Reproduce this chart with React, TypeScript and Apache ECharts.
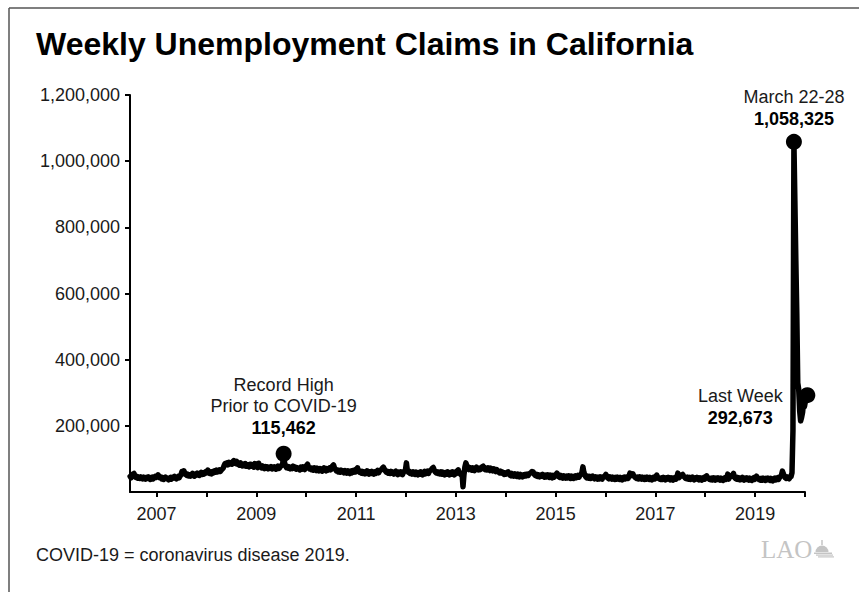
import React, { useEffect, useRef } from "react";
import * as echarts from "echarts";

const chartTitle = "Weekly Unemployment Claims in California";
const footnote = "COVID-19 = coronavirus disease 2019.";
const sourceMark = "LAO";

const yTickValues = [0, 200000, 400000, 600000, 800000, 1000000, 1200000];
const xTickYears = [2007, 2008, 2009, 2010, 2011, 2012, 2013, 2014, 2015, 2016, 2017, 2018, 2019, 2020];
const xLabelYears = [2007, 2009, 2011, 2013, 2015, 2017, 2019];
const tickWeekOffset = 0.453;

// Weekly initial claims, thousands.
const claims2006 = [47, 43, 50, 54];
const claims2007 = [56, 48, 44, 47, 42, 45, 41, 46, 43, 40, 45, 42, 39, 44, 41, 46, 40, 38, 43, 45, 40, 42, 47, 44, 49, 52, 46, 43, 45, 40, 43, 38, 41, 45, 42, 39, 37, 42, 44, 39, 41, 45, 47, 42, 40, 44, 47, 43, 48, 52, 62, 55];
const claims2008 = [64, 57, 53, 50, 54, 49, 52, 48, 53, 56, 50, 48, 54, 51, 57, 53, 50, 56, 59, 53, 58, 54, 60, 62, 58, 66, 61, 56, 59, 55, 62, 58, 64, 60, 66, 61, 64, 67, 62, 66, 69, 72, 80, 86, 83, 88, 82, 90, 85, 88, 84, 92];
const claims2009 = [95, 88, 86, 93, 84, 87, 81, 88, 83, 79, 84, 80, 86, 78, 83, 79, 76, 84, 78, 83, 80, 75, 86, 81, 77, 74, 87, 80, 76, 73, 79, 74, 71, 77, 72, 76, 70, 75, 72, 77, 70, 74, 76, 71, 69, 75, 78, 71, 74, 79, 80, 84];
const claims2010 = [115.462, 88, 79, 74, 77, 72, 76, 70, 75, 71, 78, 72, 75, 69, 74, 70, 72, 67, 75, 69, 76, 72, 68, 77, 80, 84, 74, 70, 73, 68, 71, 66, 73, 69, 65, 72, 68, 64, 71, 66, 63, 70, 73, 66, 64, 71, 66, 69, 73, 67, 74, 79];
const claims2011 = [82, 73, 68, 64, 66, 61, 65, 60, 66, 61, 64, 58, 65, 61, 57, 64, 60, 56, 63, 58, 65, 60, 66, 61, 69, 73, 64, 60, 63, 57, 62, 56, 61, 55, 60, 64, 57, 54, 61, 56, 62, 57, 54, 61, 56, 62, 65, 58, 63, 66, 68, 72];
const claims2012 = [75, 69, 64, 60, 62, 57, 61, 56, 62, 57, 60, 54, 60, 63, 56, 53, 60, 55, 61, 56, 53, 60, 63, 66, 88, 65, 60, 62, 56, 60, 54, 61, 57, 53, 60, 55, 52, 59, 54, 61, 56, 52, 59, 62, 55, 60, 63, 56, 63, 65, 67, 72];
const claims2013 = [74, 67, 61, 58, 61, 56, 60, 55, 61, 54, 60, 56, 52, 59, 54, 61, 56, 52, 59, 54, 61, 56, 52, 60, 56, 64, 67, 58, 55, 52, 57, 16, 52, 76, 88, 79, 72, 68, 74, 69, 66, 73, 68, 65, 72, 75, 70, 67, 72, 68, 73, 76];
const claims2014 = [78, 71, 68, 72, 67, 73, 69, 65, 72, 67, 64, 70, 66, 62, 68, 64, 61, 58, 63, 58, 60, 55, 53, 58, 54, 59, 61, 54, 51, 49, 56, 52, 48, 55, 51, 47, 54, 50, 46, 53, 49, 46, 52, 48, 53, 49, 54, 50, 55, 57, 59, 62];
const claims2015 = [61, 55, 51, 49, 53, 47, 52, 46, 51, 48, 53, 47, 45, 51, 46, 52, 48, 44, 51, 46, 43, 50, 45, 51, 53, 57, 50, 46, 44, 50, 45, 42, 49, 45, 42, 48, 43, 49, 45, 41, 48, 44, 41, 47, 49, 43, 46, 50, 45, 51, 53, 59];
const claims2016 = [76, 60, 51, 46, 43, 48, 42, 47, 41, 46, 48, 42, 40, 46, 41, 39, 45, 40, 46, 41, 39, 45, 47, 49, 53, 46, 42, 40, 46, 41, 39, 45, 41, 38, 44, 39, 45, 41, 38, 44, 40, 37, 43, 45, 40, 44, 46, 41, 47, 57, 49, 52];
const claims2017 = [55, 49, 46, 43, 41, 45, 40, 46, 41, 39, 45, 41, 38, 44, 39, 45, 41, 38, 44, 40, 37, 43, 45, 40, 44, 51, 45, 41, 39, 38, 43, 38, 44, 40, 37, 43, 39, 44, 40, 37, 43, 39, 36, 42, 44, 39, 43, 57, 43, 46, 48, 51];
const claims2018 = [53, 48, 45, 41, 40, 45, 39, 44, 38, 43, 45, 40, 37, 43, 39, 44, 40, 37, 43, 39, 36, 42, 44, 39, 43, 49, 44, 41, 38, 37, 42, 37, 43, 39, 36, 42, 38, 43, 39, 36, 42, 38, 35, 41, 43, 38, 42, 54, 39, 45, 47, 49];
const claims2019 = [51, 56, 44, 41, 39, 44, 38, 43, 37, 42, 44, 39, 36, 42, 38, 43, 39, 36, 42, 38, 35, 41, 43, 38, 42, 48, 43, 40, 37, 36, 41, 36, 42, 38, 35, 41, 37, 42, 38, 35, 41, 37, 34, 40, 42, 37, 41, 43, 38, 44, 47, 51];
const claims2020 = [63, 55, 47, 43, 41, 46, 42, 40, 45, 47, 58, 186, 1058.325, 880, 700, 540, 330, 310, 245, 215, 225, 240, 268, 258, 275, 284, 292.673];

const yearSeries: [number, number, number[]][] = [
  [2006, 48, claims2006],
  [2007, 0, claims2007],
  [2008, 0, claims2008],
  [2009, 0, claims2009],
  [2010, 0, claims2010],
  [2011, 0, claims2011],
  [2012, 0, claims2012],
  [2013, 0, claims2013],
  [2014, 0, claims2014],
  [2015, 0, claims2015],
  [2016, 0, claims2016],
  [2017, 0, claims2017],
  [2018, 0, claims2018],
  [2019, 0, claims2019],
  [2020, 0, claims2020],
];

const recordHighLabel = ["Record High", "Prior to COVID-19"];
const peakLabel = ["March 22-28"];
const lastLabel = ["Last Week"];

const FONT = '"Liberation Sans", Arial, Helvetica, sans-serif';

export default function App() {
  const ref = useRef<HTMLDivElement>(null);
  useEffect(() => {
    if (!ref.current) return;
    const chart = echarts.init(ref.current, null, { renderer: "svg" });

    const lineData: [number, number][] = [];
    yearSeries.forEach(([yr, w0, arr]) => {
      arr.forEach((v, i) => {
        lineData.push([yr + (w0 + i) / 52, Math.round(v * 1000)]);
      });
    });
    const pt = (yr: number, idx: number): [number, number] => {
      const entry = yearSeries.find((e) => e[0] === yr)!;
      return [yr + (entry[1] + idx) / 52, Math.round(entry[2][idx] * 1000)];
    };
    const recordPt = pt(2010, 0);
    const peakPt = pt(2020, 12);
    const lastPt = pt(2020, claims2020.length - 1);
    const fmt = (v: number) => v.toLocaleString("en-US");

    const rich = {
      n: { fontFamily: FONT, fontSize: 18, lineHeight: 21.7, color: "#1a1a1a" },
      b: { fontFamily: FONT, fontSize: 18, lineHeight: 21.7, color: "#000", fontWeight: "bold" },
    };
    const lbl = (lines: string[], v: number) =>
      lines.map((t) => `{n|${t}}`).join("\n") + `\n{b|${fmt(v)}}`;

    chart.setOption({
      animation: false,
      backgroundColor: "#fff",
      grid: { left: 130, right: 54, top: 95, bottom: 100, containLabel: false },
      xAxis: {
        type: "value",
        min: 2006.92,
        max: 2020 + tickWeekOffset,
        splitLine: { show: false },
        axisLine: { show: true, lineStyle: { color: "#000", width: 2 } },
        axisTick: {
          show: true,
          length: 5,
          lineStyle: { color: "#000", width: 2 },
          customValues: xTickYears.map((y) => y + tickWeekOffset),
        },
        axisLabel: {
          customValues: xLabelYears.map((y) => y + tickWeekOffset),
          formatter: (v: number) => String(Math.floor(v)),
          fontFamily: FONT,
          fontSize: 18,
          color: "#1a1a1a",
          margin: 13,
        },
      },
      yAxis: {
        type: "value",
        min: 0,
        max: 1200000,
        interval: 200000,
        splitLine: { show: false },
        axisLine: { show: true, lineStyle: { color: "#000", width: 2 } },
        axisTick: { show: true, length: 5, lineStyle: { color: "#000", width: 2 }, customValues: yTickValues.slice(1) },
        axisLabel: {
          customValues: yTickValues.slice(1),
          formatter: (v: number) => (v === 0 ? "" : fmt(v)),
          fontFamily: FONT,
          fontSize: 18,
          color: "#1a1a1a",
          margin: 10,
        },
      },
      series: [
        {
          type: "line",
          data: lineData,
          showSymbol: false,
          clip: false,
          lineStyle: { color: "#000", width: 5.5, join: "round", cap: "round" },
          z: 2,
        },
        {
          type: "scatter",
          clip: false,
          symbolSize: 16,
          itemStyle: { color: "#000", opacity: 1 },
          z: 3,
          data: [
            {
              value: recordPt,
              label: { show: true, position: "top", distance: 7, formatter: lbl(recordHighLabel, recordPt[1]), rich },
            },
            {
              value: peakPt,
              label: { show: true, position: "top", distance: 4, formatter: lbl(peakLabel, peakPt[1]), rich },
            },
            {
              value: lastPt,
              label: {
                show: true,
                position: [-59, 20],
                align: "center",
                verticalAlign: "middle",
                formatter: lbl(lastLabel, lastPt[1]),
                rich,
              },
            },
          ],
        },
      ],
      graphic: [
        { type: "line", shape: { x1: 9, y1: 8, x2: 859, y2: 8 }, style: { stroke: "#555", lineWidth: 1.5 } },
        { type: "line", shape: { x1: 9, y1: 8, x2: 9, y2: 592 }, style: { stroke: "#555", lineWidth: 1.5 } },
        {
          type: "text",
          x: 36,
          y: 44,
          style: { text: chartTitle, font: `bold 32px ${FONT}`, fill: "#000", verticalAlign: "middle" },
        },
        {
          type: "text",
          x: 36,
          y: 555,
          style: { text: footnote, font: `18px ${FONT}`, fill: "#1a1a1a", verticalAlign: "middle" },
        },
        {
          type: "text",
          x: 761,
          y: 549,
          style: {
            text: sourceMark,
            font: '25px "Liberation Serif", "Times New Roman", serif',
            fill: "#c4c4c4",
            verticalAlign: "middle",
          },
        },
        {
          type: "group",
          x: 813,
          y: 540,
          children: [
            { type: "line", shape: { x1: 9, y1: 0, x2: 9, y2: 5 }, style: { stroke: "#c4c4c4", lineWidth: 1.5 } },
            { type: "sector", shape: { cx: 9, cy: 12, r0: 0, r: 6.5, startAngle: Math.PI, endAngle: 2 * Math.PI }, style: { fill: "#c4c4c4" } },
            { type: "rect", shape: { x: 1, y: 12.5, width: 18, height: 1.5 }, style: { fill: "#c4c4c4" } },
            { type: "rect", shape: { x: 3, y: 14.5, width: 17, height: 1.2 }, style: { fill: "#c4c4c4" } },
            { type: "rect", shape: { x: 5, y: 16.3, width: 16, height: 1.2 }, style: { fill: "#c4c4c4" } },
          ],
        },
      ],
    });
    return () => chart.dispose();
  }, []);
  return (
    <div
      ref={ref}
      style={{ position: "absolute", left: 0, top: 0, width: 859, height: 592, background: "#fff" }}
    />
  );
}
